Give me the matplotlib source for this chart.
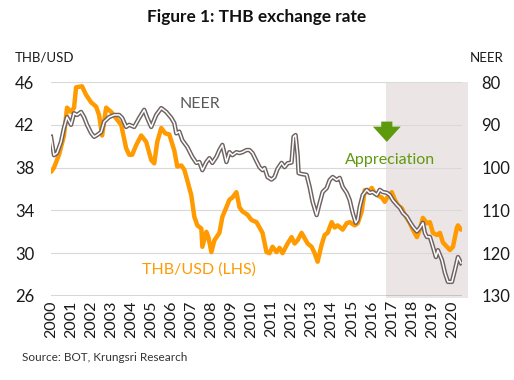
import matplotlib.pyplot as plt
import matplotlib.ticker as mticker

plt.rcParams['font.family'] = ['Lato', 'DejaVu Sans']

# THB/USD (left axis), time in decimal years
thb_t = [2000.0, 2000.15, 2000.4, 2000.65, 2000.8, 2001.0, 2001.15, 2001.25, 2001.55, 2001.75,
         2002.0, 2002.25, 2002.4, 2002.55, 2002.75, 2003.0, 2003.25, 2003.5, 2003.75, 2003.9,
         2004.05, 2004.25, 2004.5, 2004.75, 2005.0, 2005.15, 2005.3, 2005.5, 2005.7, 2005.9,
         2006.15, 2006.3, 2006.5, 2006.65, 2006.8, 2007.0, 2007.15, 2007.3, 2007.5, 2007.55,
         2007.75, 2007.85, 2008.0, 2008.15, 2008.4, 2008.55, 2008.75, 2008.9, 2009.05, 2009.25,
         2009.4, 2009.55, 2009.8, 2010.0, 2010.25, 2010.4, 2010.55, 2010.75, 2010.9, 2011.05,
         2011.25, 2011.4, 2011.55, 2011.8, 2012.0, 2012.15, 2012.3, 2012.5, 2012.65, 2012.8,
         2013.0, 2013.15, 2013.3, 2013.5, 2013.65, 2013.8, 2014.0, 2014.15, 2014.3, 2014.55,
         2014.75, 2014.9, 2015.15, 2015.3, 2015.5, 2015.65, 2015.8, 2016.0, 2016.15, 2016.3,
         2016.5, 2016.65, 2016.8, 2017.0, 2017.15, 2017.3, 2017.5, 2017.65, 2017.9, 2018.05,
         2018.25, 2018.4, 2018.55, 2018.75, 2018.9, 2019.05, 2019.25, 2019.4, 2019.55, 2019.75,
         2019.9, 2020.05, 2020.25, 2020.3, 2020.45]
thb_v = [37.6, 38.0, 39.2, 41.0, 43.6, 43.2, 43.6, 45.5, 45.6, 44.8,
         44.1, 43.7, 42.9, 41.0, 43.6, 43.2, 42.6, 42.0, 39.8, 39.2,
         39.2, 40.1, 41.0, 40.4, 38.7, 38.4, 40.4, 41.7, 41.2, 41.1,
         39.6, 38.1, 38.2, 37.8, 36.8, 35.4, 33.4, 32.6, 32.3, 30.6,
         32.0, 31.5, 30.1, 31.2, 31.9, 33.4, 34.3, 35.0, 35.2, 35.7,
         34.3, 33.9, 33.6, 33.1, 32.9, 32.4, 31.9, 30.1, 30.0, 30.6,
         30.1, 30.5, 30.0, 30.9, 31.5, 30.9, 31.2, 31.9, 31.4, 30.9,
         30.6, 30.0, 29.2, 30.8, 31.7, 31.9, 32.9, 32.4, 32.6, 32.2,
         32.8, 32.9, 32.6, 32.8, 33.9, 35.9, 35.7, 36.1, 35.6, 35.4,
         35.2, 34.8, 35.3, 35.7, 35.0, 34.5, 34.2, 33.6, 32.8, 32.2,
         31.5, 32.2, 33.3, 32.8, 32.9, 31.9, 31.7, 31.9, 31.0, 30.6,
         30.3, 30.6, 32.4, 32.6, 32.2]

# NEER (right axis, inverted)
neer_t = [2000.0, 2000.15, 2000.3, 2000.5, 2000.65, 2000.8, 2001.0, 2001.15, 2001.3, 2001.5,
          2001.65, 2001.8, 2002.0, 2002.15, 2002.3, 2002.5, 2002.65, 2002.9, 2003.15, 2003.4,
          2003.55, 2003.75, 2003.9, 2004.15, 2004.4, 2004.65, 2004.8, 2005.0, 2005.25, 2005.5,
          2005.75, 2006.0, 2006.15, 2006.25, 2006.4, 2006.55, 2006.8, 2007.05, 2007.25, 2007.4,
          2007.55, 2007.75, 2007.9, 2008.05, 2008.25, 2008.4, 2008.55, 2008.75, 2008.9, 2009.05,
          2009.25, 2009.4, 2009.55, 2009.75, 2009.9, 2010.05, 2010.25, 2010.4, 2010.55, 2010.65,
          2010.8, 2011.0, 2011.15, 2011.3, 2011.5, 2011.65, 2011.8, 2012.0, 2012.1, 2012.2,
          2012.3, 2012.35, 2012.5, 2012.75, 2012.9, 2013.05, 2013.25, 2013.4, 2013.55, 2013.75,
          2013.9, 2014.05, 2014.25, 2014.4, 2014.55, 2014.75, 2014.9, 2015.05, 2015.2, 2015.3,
          2015.4, 2015.55, 2015.75, 2015.9, 2016.05, 2016.25, 2016.4, 2016.55, 2016.75, 2016.9,
          2017.05, 2017.25, 2017.4, 2017.55, 2017.75, 2017.9, 2018.05, 2018.25, 2018.4, 2018.55,
          2018.65, 2018.75, 2018.9, 2019.05, 2019.2, 2019.3, 2019.5, 2019.65, 2019.8, 2020.0,
          2020.15, 2020.3, 2020.45]
neer_v = [92.8, 97.1, 96.6, 94.0, 90.7, 88.2, 90.0, 87.3, 87.7, 87.0,
          88.2, 90.0, 91.9, 92.8, 92.4, 91.7, 89.3, 88.2, 87.7, 87.7,
          88.4, 90.5, 90.0, 90.5, 88.4, 86.5, 88.4, 90.5, 87.7, 86.1,
          87.0, 88.4, 89.6, 92.0, 91.6, 93.6, 95.2, 97.5, 98.9, 98.7,
          100.6, 98.7, 97.8, 98.9, 97.5, 95.9, 94.7, 98.7, 96.4, 97.1,
          96.4, 96.6, 96.4, 95.9, 95.9, 96.6, 98.5, 99.9, 100.6, 100.1,
          102.2, 102.8, 102.2, 100.3, 98.9, 99.9, 99.0, 98.8, 92.8, 92.4,
          97.0, 101.3, 101.5, 101.7, 104.5, 108.0, 111.1, 108.3, 105.7, 104.8,
          102.9, 102.2, 102.9, 102.4, 104.5, 105.9, 107.6, 110.6, 112.9, 112.2,
          109.2, 106.4, 105.2, 105.9, 105.7, 106.4, 105.2, 105.7, 105.9, 106.4,
          107.6, 108.7, 109.4, 110.6, 111.5, 112.7, 113.8, 114.9, 114.1, 112.9,
          115.3, 116.2, 116.2, 118.5, 120.9, 119.3, 121.6, 124.6, 126.7, 126.7,
          123.9, 120.9, 122.3]

years = list(range(2000, 2021))
left_ticks = [26, 30, 34, 38, 42, 46]
right_ticks = [80, 90, 100, 110, 120, 130]

orange = '#FF9A00'
gray = '#6E6262'
green = '#5E9A0E'

fig = plt.figure(figsize=(5.14, 3.8), dpi=100)
ax = fig.add_axes([0.0992, 0.2211, 0.7996, 0.5631])
ax2 = ax.twinx()

# shaded appreciation period
ax.axvspan(2016.7, 2020.82, ymin=-0.01, ymax=1.0, color='#ECE5E5', lw=0, zorder=0, clip_on=False)

ax.plot(thb_t, thb_v, color=orange, lw=3.2, solid_capstyle='round', zorder=3)
ax2.plot(neer_t, neer_v, color=gray, lw=3.2, zorder=3)
ax2.plot(neer_t, neer_v, color='white', lw=1.1, zorder=4)

ax.set_xlim(2000, 2020.5)
ax.set_ylim(26, 46)
ax2.set_ylim(130, 80)
ax.set_yticks(left_ticks)
ax2.set_yticks(right_ticks)
ax.set_xticks(years)
ax.set_xticklabels([str(y) for y in years], rotation=90)
ax.yaxis.grid(True, color='#D9D9D9', lw=0.8)
ax.set_axisbelow(True)

for a in (ax, ax2):
    for s in a.spines.values():
        s.set_visible(False)
    a.tick_params(length=0, labelsize=12, colors='#1a1a1a')
ax.tick_params(axis='x', labelsize=11.5, pad=3)
ax.tick_params(axis='y', pad=12)
ax2.tick_params(axis='y', pad=14)
ax.axhline(26, color='#404040', lw=1.0, zorder=2)

fig.text(0.5, 0.955, 'Figure 1: THB exchange rate', ha='center', va='center',
         fontsize=12.4, fontweight='bold', color='#111111')
fig.text(0.029, 0.848, 'THB/USD', ha='left', va='center', fontsize=9.5, color='#1a1a1a')
fig.text(0.914, 0.848, 'NEER', ha='left', va='center', fontsize=9.5, color='#1a1a1a')
fig.text(0.043, 0.06, 'Source: BOT, Krungsri Research', ha='left', va='center',
         fontsize=8.5, color='#333333')

ax.text(2006.4, 43.9, 'NEER', color='#595959', fontsize=11.5, ha='left', va='center')
ax.text(2004.55, 28.5, 'THB/USD (LHS)', color=orange, fontsize=11.5, ha='left', va='center')
ax.text(2016.9, 38.7, 'Appreciation', color=green, fontsize=11.5, ha='center', va='center')
ax.annotate('', xy=(2016.75, 40.4), xytext=(2016.75, 42.3),
            arrowprops=dict(arrowstyle='simple,head_width=2.0,head_length=1.1,tail_width=0.8',
                            color=green, lw=0, shrinkA=0, shrinkB=0))

fig.savefig('out.png', dpi=100)
